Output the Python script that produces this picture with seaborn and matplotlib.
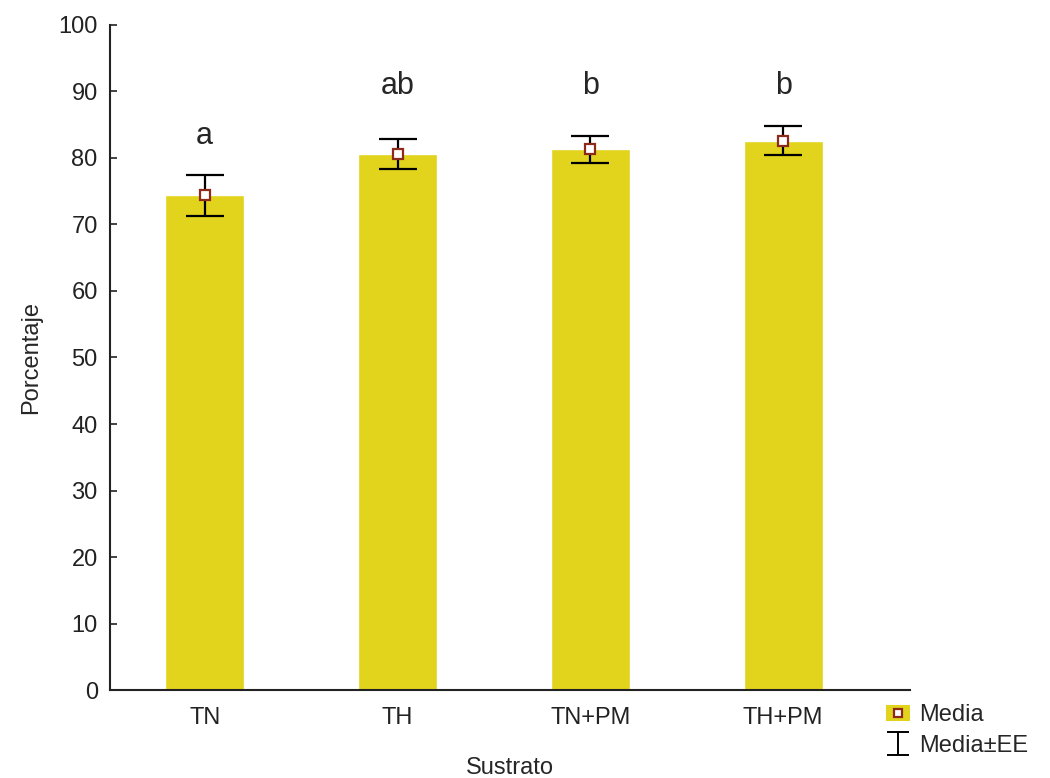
import numpy as np
import pandas as pd
import seaborn as sns
import matplotlib.pyplot as plt
from matplotlib.patches import Patch
from matplotlib.lines import Line2D

# Datos
sustrato = ["TN", "TH", "TN+PM", "TH+PM"]
media = [74.4, 80.6, 81.3, 82.6]
ee = [3.1, 2.3, 2.0, 2.15]
letras = ["a", "ab", "b", "b"]
letras_y = [83.3, 90.8, 90.8, 90.8]

df = pd.DataFrame({"Sustrato": sustrato, "Porcentaje": media})

sns.set_style("white")
plt.rcParams['font.family'] = ['Liberation Sans', 'DejaVu Sans']
plt.rcParams['xtick.direction'] = 'in'
plt.rcParams['ytick.direction'] = 'in'

amarillo = "#E2D41C"
rojo = "#8E2A1A"

fig = plt.figure(figsize=(10.5, 7.78), dpi=100)
ax = fig.add_axes([0.105, 0.113, 0.762, 0.855])

sns.barplot(data=df, x="Sustrato", y="Porcentaje", color=amarillo,
            width=0.41, errorbar=None, saturation=1, ax=ax)

ax.errorbar(range(len(sustrato)), media, yerr=ee, fmt='none',
            ecolor="black", elinewidth=1.6, capsize=14, capthick=1.6)
ax.plot(range(len(sustrato)), media, ls='none', marker='s', ms=7,
        mfc='white', mec=rojo, mew=1.6)

# handle only for the legend (narrower caps)
eb_leg = ax.errorbar([np.nan], [np.nan], yerr=[0], fmt='none',
                     ecolor="black", elinewidth=1.4, capsize=8, capthick=1.4)

for i, (t, y) in enumerate(zip(letras, letras_y)):
    ax.text(i, y, t, ha='center', va='center', fontsize=22)

ax.set_ylim(0, 100)
ax.set_yticks(range(0, 101, 10))
ax.set_xlim(-0.49, 3.66)
sns.despine(ax=ax)
for s in ["left", "bottom"]:
    ax.spines[s].set_color("#222222")
    ax.spines[s].set_linewidth(1.5)
ax.tick_params(which='both', direction='in', length=5, width=1.2,
               colors="#222222", labelsize=17, left=True, bottom=True)
ax.tick_params(axis='y', pad=9)
ax.tick_params(axis='x', pad=12)
ax.set_xlabel("Sustrato", fontsize=17, labelpad=20)
ax.set_ylabel("Porcentaje", fontsize=17, labelpad=12)

h1 = (Patch(facecolor=amarillo, edgecolor='none'),
      Line2D([], [], ls='none', marker='s', ms=6, mfc='white', mec=rojo, mew=1.6))
fig.legend([h1, eb_leg], ["Media", "Media±EE"], loc='lower left',
           bbox_to_anchor=(0.824, 0.0), frameon=False, fontsize=17,
           handlelength=1.0, handletextpad=0.4, labelspacing=0.35)

fig.savefig("out.png", dpi=100)
